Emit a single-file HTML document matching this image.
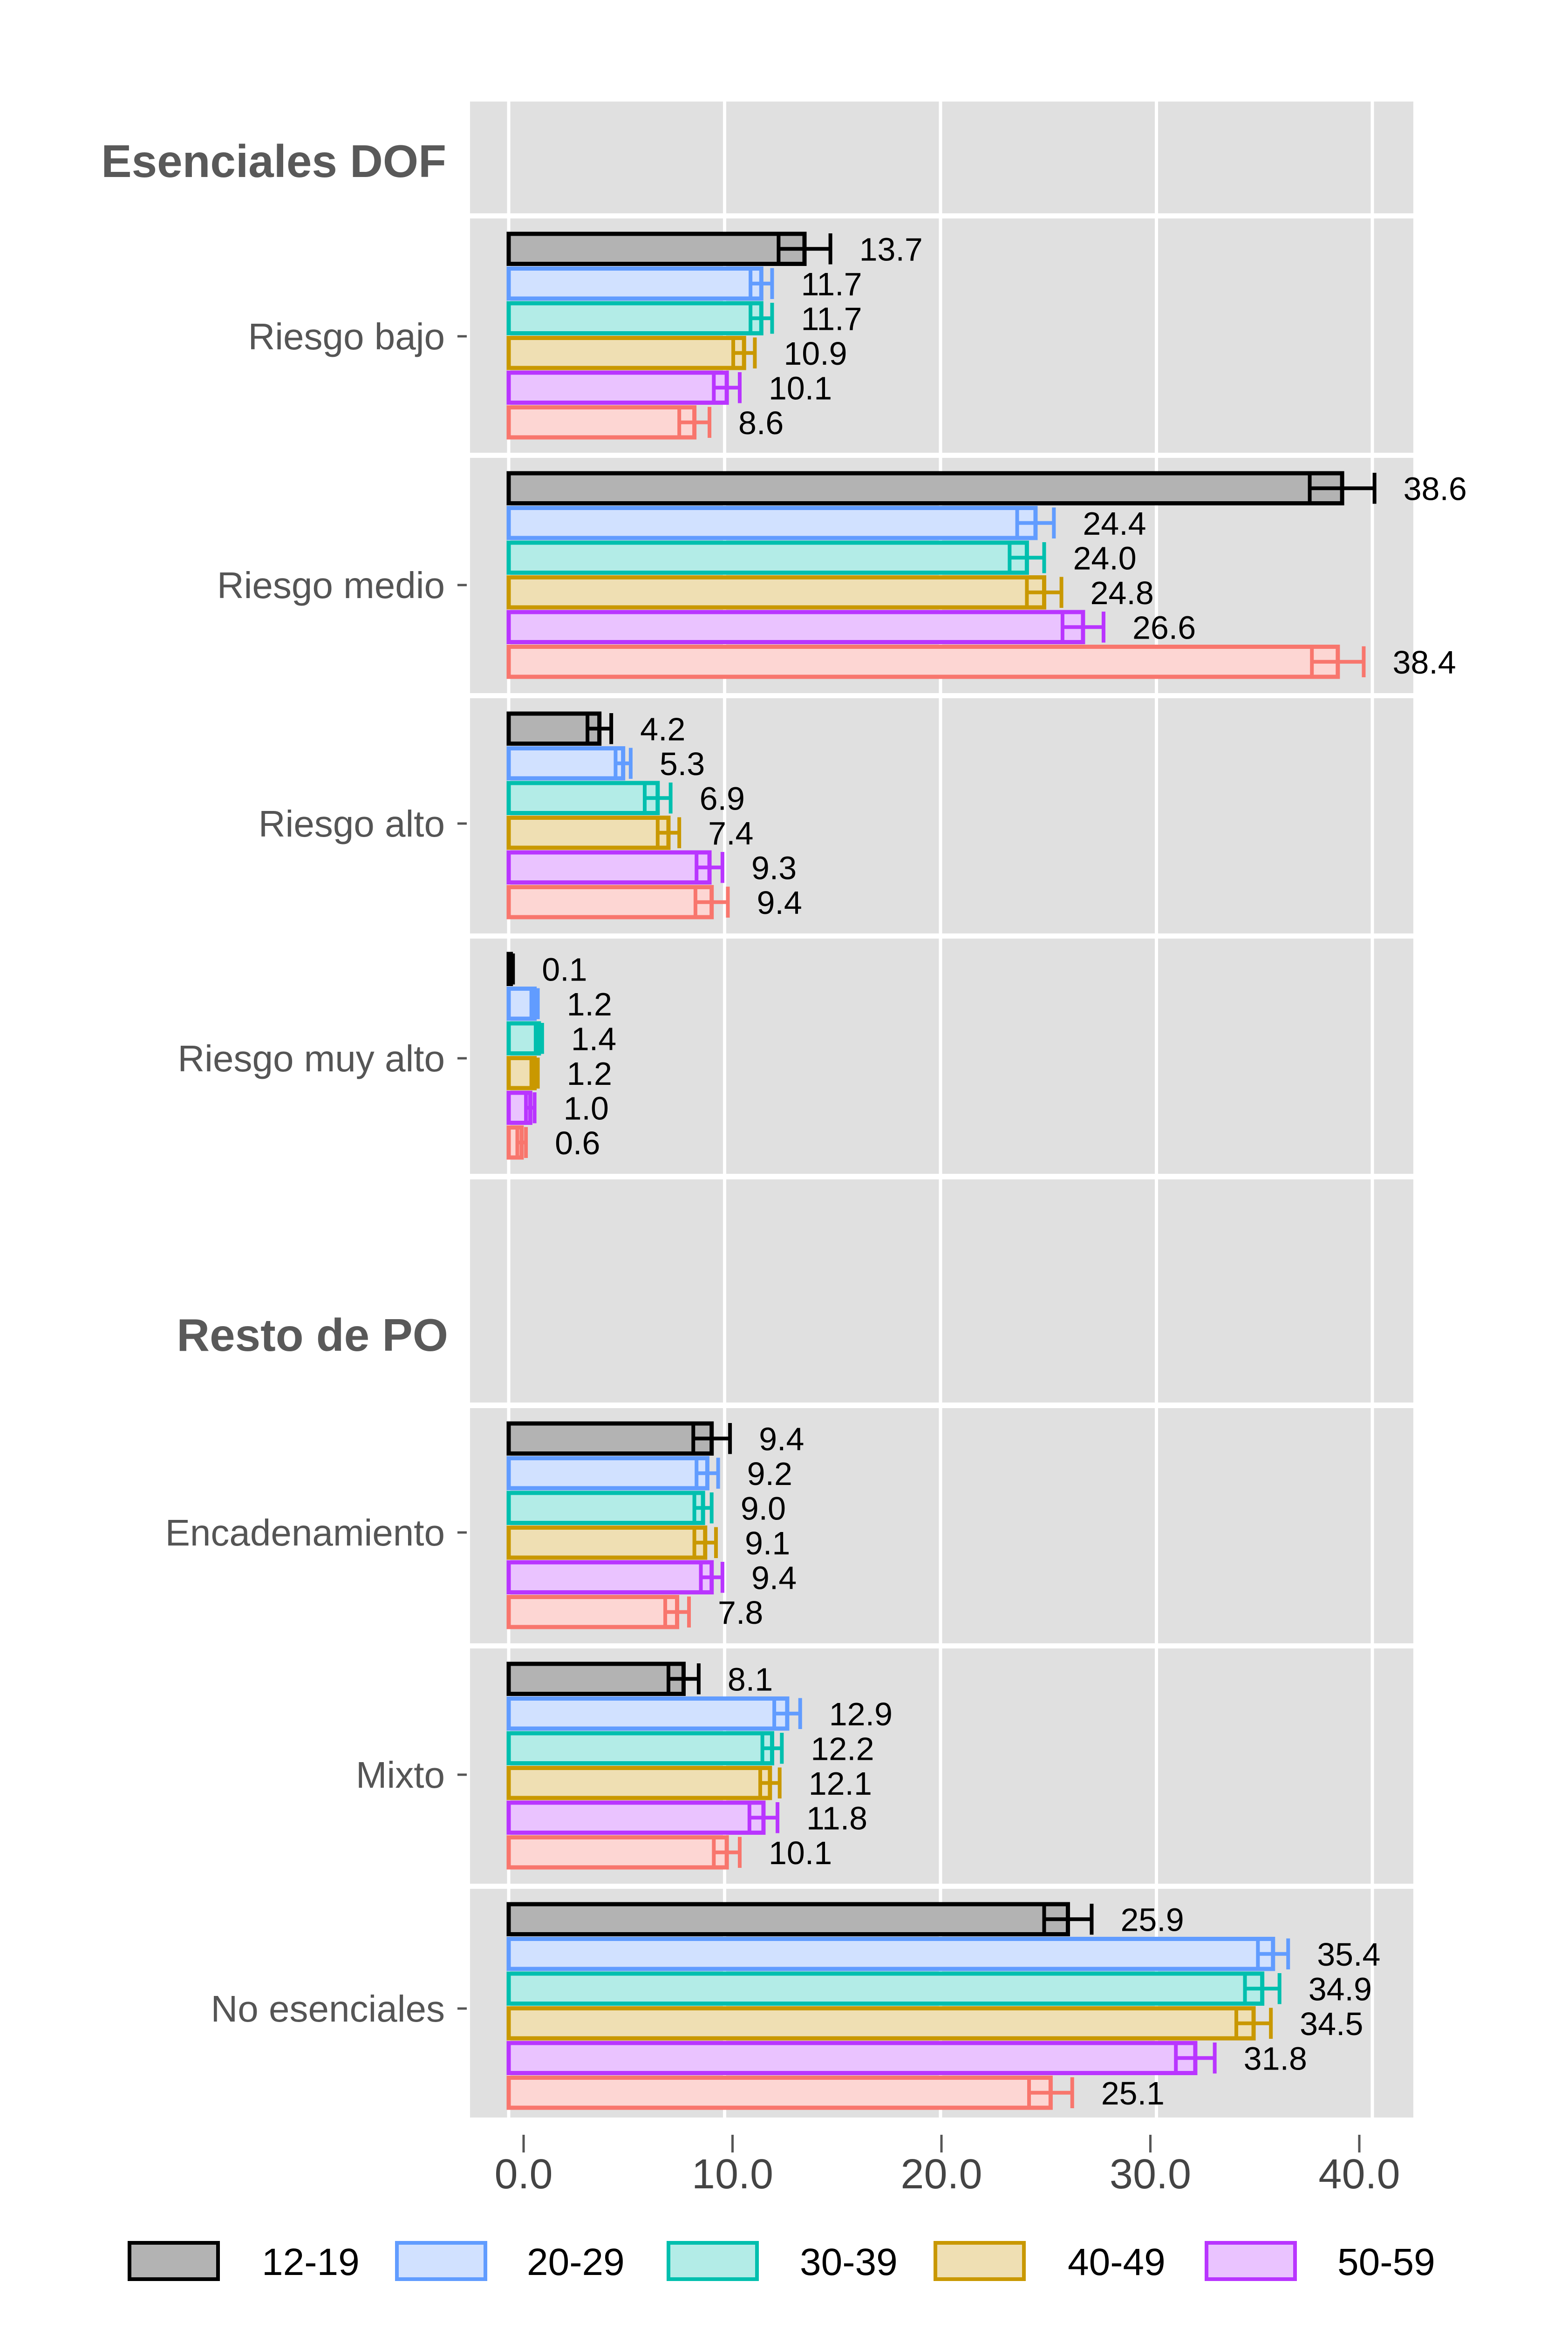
<!DOCTYPE html>
<html><head><meta charset="utf-8"><style>
html,body{margin:0;padding:0;background:#fff;width:3366px;height:5124px;overflow:hidden;}
svg{display:block;font-family:"Liberation Sans",sans-serif;}
</style></head><body>
<svg id="chart" width="3366" height="5124" viewBox="0 0 3366 5124" xmlns="http://www.w3.org/2000/svg">
<g id="panels"></g>
<g id="bars"></g>
<g id="yaxis"></g>
<g id="xaxis"></g>
<g id="legend"></g>
</svg>
<script>
const categories = ["Riesgo bajo","Riesgo medio","Riesgo alto","Riesgo muy alto","Encadenamiento","Mixto","No esenciales"];
const seriesNames = ["12-19","20-29","30-39","40-49","50-59","60+"];
const v1219 = [13.7,38.6,4.2,0.1,9.4,8.1,25.9];
const v2029 = [11.7,24.4,5.3,1.2,9.2,12.9,35.4];
const v3039 = [11.7,24.0,6.9,1.4,9.0,12.2,34.9];
const v4049 = [10.9,24.8,7.4,1.2,9.1,12.1,34.5];
const v5059 = [10.1,26.6,9.3,1.0,9.4,11.8,31.8];
const v60 = [8.6,38.4,9.4,0.6,7.8,10.1,25.1];
const e1219 = [1.2,1.5,0.55,0.1,0.85,0.7,1.1];
const e2029 = [0.5,0.85,0.35,0.15,0.5,0.6,0.7];
const e3039 = [0.5,0.8,0.6,0.15,0.4,0.45,0.8];
const e4049 = [0.5,0.8,0.5,0.15,0.5,0.45,0.8];
const e5059 = [0.6,0.95,0.6,0.2,0.5,0.65,0.9];
const e60 = [0.7,1.2,0.75,0.2,0.55,0.6,1.0];
const xTicks = [0,10,20,30,40];
const xTickLabels = ["0.0","10.0","20.0","30.0","40.0"];

const values=[v1219,v2029,v3039,v4049,v5059,v60];
const errs=[e1219,e2029,e3039,e4049,e5059,e60];
const strokes=["#000000","#619CFF","#00BFAE","#C99800","#B935FF","#F8766D"];
const fills=["#b3b3b3","#d1e1ff","#b3ece7","#efdfb3","#eac3ff","#fdd6d3"];
const NS="http://www.w3.org/2000/svg";
function mk(tag,attrs,parent){const e=document.createElementNS(NS,tag);for(const k in attrs)e.setAttribute(k,attrs[k]);parent.appendChild(e);return e;}
const X0=1092, PX=46.35;
function x(v){return X0+v*PX;}
const panelTop=[218,469,983,1499,2015,2532,3023,3539,4055];
const panelBot=[458,972,1488,2004,2520,3011,3528,4044,4546];
const dataPanel=[1,2,3,4,6,7,8];
const labelY=[722,1256,1768,2272,3290,3810,4312];
const P=document.getElementById('panels'),B=document.getElementById('bars'),Y=document.getElementById('yaxis'),XA=document.getElementById('xaxis'),L=document.getElementById('legend');
for(let i=0;i<panelTop.length;i++){
  const r=mk('rect',{x:1009,y:panelTop[i],width:3034-1009,height:panelBot[i]-panelTop[i],fill:'#e0e0e0'},P);
  
  
  xTicks.forEach(t=>{const g=mk('line',{x1:x(t),x2:x(t),y1:panelTop[i],y2:panelBot[i],stroke:'#fff','stroke-width':7},P);
    
    });
}
const h1=mk('text',{x:958,y:380,'text-anchor':'end','font-size':98,'font-weight':'bold',fill:'#595959'},Y);h1.textContent="Esenciales DOF";


const h2=mk('text',{x:962,y:2900,'text-anchor':'end','font-size':98,'font-weight':'bold',fill:'#595959'},Y);h2.textContent="Resto de PO";


const BH=74.5;
categories.forEach((c,ci)=>{
  const pt=panelTop[dataPanel[ci]];
  const lt=mk('text',{x:955,y:labelY[ci]+28,'text-anchor':'end','font-size':80,fill:'#555'},Y);lt.textContent=c;
  
  
  const tk=mk('line',{x1:982,x2:1002,y1:labelY[ci],y2:labelY[ci],stroke:'#555','stroke-width':5},Y);
  
  
  for(let s=0;s<6;s++){
    const v=values[s][ci],e=errs[s][ci];
    const top=pt+28+s*BH, cy=top+BH/2;
    const r=mk('rect',{x:x(0),y:top+5,width:Math.max(x(v)-x(0),2),height:BH-10,fill:fills[s],stroke:strokes[s],'stroke-width':9},B);
    
    
    const lo=x(v-e),hi=x(v+e);
    const eb=mk('path',{d:`M${lo},${cy} H${hi} M${lo},${top+4} V${top+BH-4} M${hi},${top+4} V${top+BH-4}`,stroke:strokes[s],'stroke-width':8,fill:'none'},B);
    
    
    const t=mk('text',{x:hi+62,y:cy+25,'font-size':70,fill:'#000'},B);t.textContent=v.toFixed(1);
    
    
  }
});
xTicks.forEach((t,i)=>{
  const px=1124+t*44.85;
  const tk=mk('line',{x1:px,x2:px,y1:4583,y2:4621,stroke:'#555','stroke-width':5},XA);
  
  
  const lb=mk('text',{x:px,y:4698,'text-anchor':'middle','font-size':90,fill:'#444'},XA);lb.textContent=xTickLabels[i];
  
  
});
const lgBox=[278,852,1435,2008,2590];
const lgTxt=[562,1131,1717,2292,2871];
for(let s=0;s<5;s++){
  const r=mk('rect',{x:lgBox[s],y:4815,width:190,height:78,fill:fills[s],stroke:strokes[s],'stroke-width':8},L);
  
  
  const t=mk('text',{x:lgTxt[s],y:4884,'font-size':82,fill:'#000'},L);t.textContent=seriesNames[s];
  
  
}
</script>
</body></html>
